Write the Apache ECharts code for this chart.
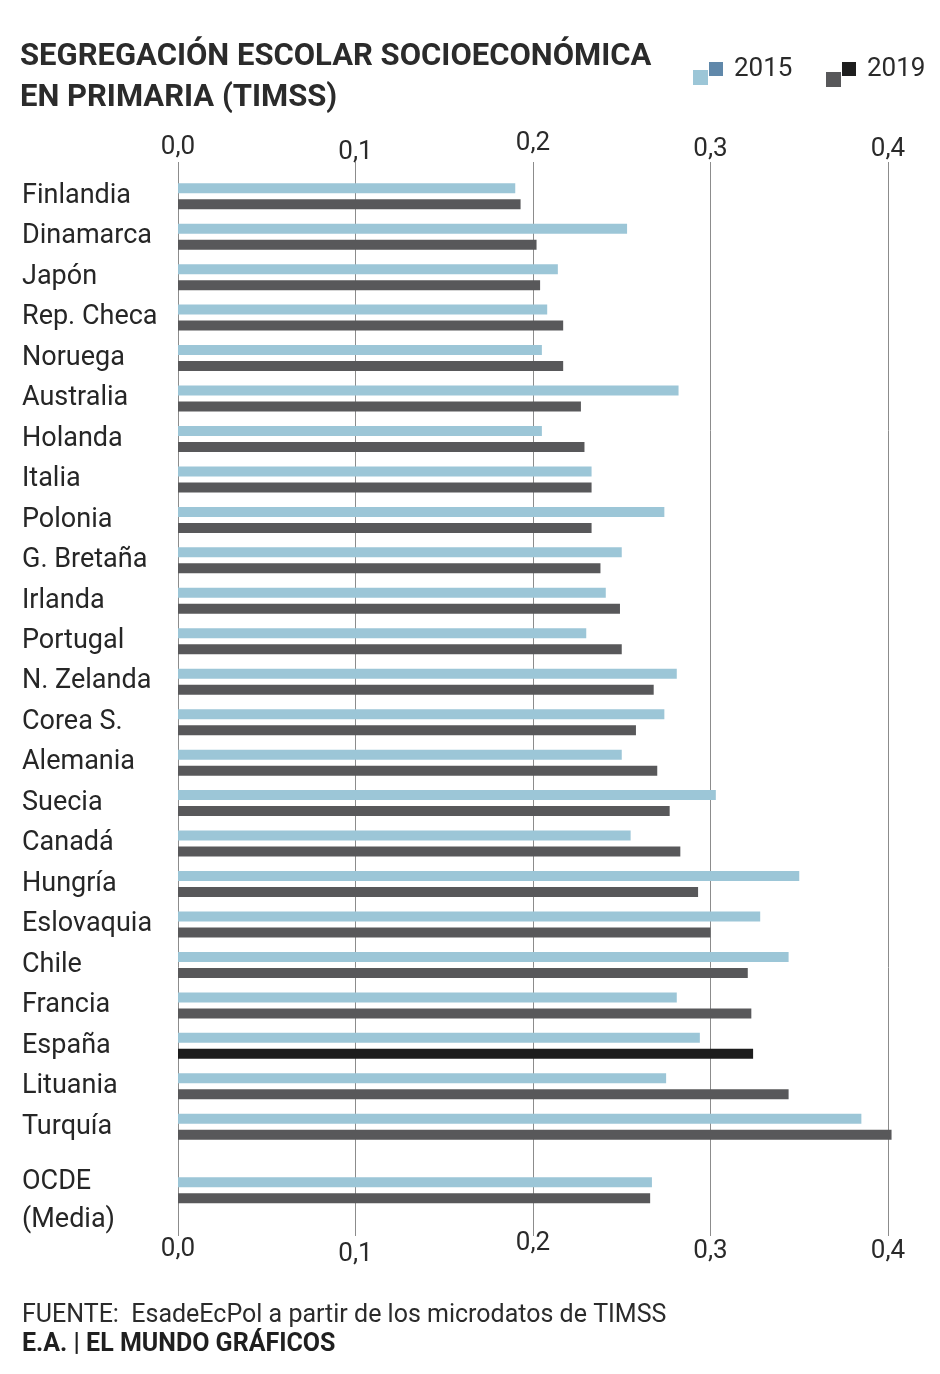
<!DOCTYPE html>
<html>
<head>
<meta charset="utf-8">
<script src="https://cdn.jsdelivr.net/npm/echarts@6/dist/echarts.min.js"></script>
<style>
  html, body { margin: 0; padding: 0; background: #fff; }
  #chart { width: 940px; height: 1374px; }
</style>
</head>
<body>
<div id="chart"></div>
<script>
const countries = [
  'Finlandia', 'Dinamarca', 'Japón', 'Rep. Checa', 'Noruega', 'Australia',
  'Holanda', 'Italia', 'Polonia', 'G. Bretaña', 'Irlanda', 'Portugal',
  'N. Zelanda', 'Corea S.', 'Alemania', 'Suecia', 'Canadá', 'Hungría',
  'Eslovaquia', 'Chile', 'Francia', 'España', 'Lituania', 'Turquía'
];
const values2015 = [
  0.190, 0.253, 0.214, 0.208, 0.205, 0.282,
  0.205, 0.233, 0.274, 0.250, 0.241, 0.230,
  0.281, 0.274, 0.250, 0.303, 0.255, 0.350,
  0.328, 0.344, 0.281, 0.294, 0.275, 0.385
];
const values2019 = [
  0.193, 0.202, 0.204, 0.217, 0.217, 0.227,
  0.229, 0.233, 0.233, 0.238, 0.249, 0.250,
  0.268, 0.258, 0.270, 0.277, 0.283, 0.293,
  0.300, 0.321, 0.323, 0.324, 0.344, 0.402
];
const oecdCategory = ['OCDE\n(Media)'];
const oecd2015 = [0.267];
const oecd2019 = [0.266];
const tickLabels = ['0,0', '0,1', '0,2', '0,3', '0,4'];
const highlighted = 'España';

const FONT = 'Roboto, "Noto Sans", sans-serif';
const C2015 = '#9cc6d7';
const C2019 = '#58585a';
const CSPAIN = '#1c1c1c';
const GRID_LINE = '#8c8c8c';

// the hand-set tick labels of the original sit a little up or down
const topNudge = [5, 0, 9, 3, 3];
const bottomNudge = [6, 11, 0, 8, 8];

const chart = echarts.init(document.getElementById('chart'), null, { renderer: 'canvas' });

const tickFormatter = (v) => {
  const i = Math.round(v * 10);
  return tickLabels[i] != null ? `{t${i}|${tickLabels[i]}}` : '';
};
const tickRich = (nudge, side) => Object.fromEntries(nudge.map((n, i) => [
  't' + i,
  { fontFamily: FONT, fontSize: 26, color: '#2a2a2a', padding: side === 'top' ? [0, 0, n, 0] : [n, 0, 0, 0] }
]));

const hiddenValueAxis = (gridIndex) => ({
  type: 'value', gridIndex, min: 0, max: 0.4, interval: 0.1,
  show: false, splitLine: { show: false }
});

const legendItem = (name, color, left, top, size, withText) => ({
  selectedMode: false,
  left, top,
  icon: 'rect',
  itemWidth: size,
  itemHeight: size,
  padding: 0,
  data: [{ name, itemStyle: { color } }],
  formatter: withText ? (n) => n : () => '',
  textStyle: {
    fontFamily: FONT, fontSize: 26, color: '#2a2a2a',
    padding: [4, 0, 0, 6]
  }
});

const labelStyle = { fontFamily: FONT, fontSize: 27, color: '#262626' };

const option = {
  animation: false,
  backgroundColor: '#fff',
  title: [
    {
      text: 'SEGREGACIÓN ESCOLAR SOCIOECONÓMICA\nEN PRIMARIA (TIMSS)',
      left: 20, top: 37, padding: 0,
      textStyle: { fontFamily: FONT, fontSize: 31, fontWeight: 'bold', color: '#2b2b2b', lineHeight: 41 }
    },
    {
      text: 'FUENTE:  EsadeEcPol a partir de los microdatos de TIMSS',
      left: 22, top: 1303, padding: 0,
      textStyle: { fontFamily: FONT, fontSize: 25, fontWeight: 'normal', color: '#2b2b2b' }
    },
    {
      text: 'E.A. | EL MUNDO GRÁFICOS',
      left: 22, top: 1332, padding: 0,
      textStyle: { fontFamily: FONT, fontSize: 25, fontWeight: 'bold', color: '#1f1f1f' }
    }
  ],
  legend: [
    legendItem('2015', C2015, 693, 70, 15, false),
    legendItem('2015', '#6088aa', 709, 56, 14, true),
    legendItem('2019', C2019, 826, 72, 15, false),
    legendItem('2019', '#1e1e1e', 842, 56, 14, true)
  ],
  grid: [
    // frame grid: gridlines and tick labels (top + bottom)
    { left: 178, right: 52, top: 162, bottom: 138 },
    // countries
    { left: 178, right: 52, top: 176, bottom: 227 },
    // OECD average
    { left: 178, right: 52, top: 1170, bottom: 163.5 }
  ],
  xAxis: [
    {
      type: 'value', gridIndex: 0, position: 'top', min: 0, max: 0.4, interval: 0.1,
      axisLine: { show: false }, axisTick: { show: false },
      splitLine: { show: true, lineStyle: { color: GRID_LINE, width: 1 } },
      axisLabel: { formatter: tickFormatter, rich: tickRich(topNudge, 'top'), margin: -3 }
    },
    {
      type: 'value', gridIndex: 0, position: 'bottom', min: 0, max: 0.4, interval: 0.1,
      axisLine: { show: false }, axisTick: { show: false }, splitLine: { show: false },
      axisLabel: { formatter: tickFormatter, rich: tickRich(bottomNudge, 'bottom'), margin: -6 }
    },
    hiddenValueAxis(1),
    hiddenValueAxis(2)
  ],
  yAxis: [
    { type: 'category', gridIndex: 0, data: [''], show: false },
    {
      type: 'category', gridIndex: 1, data: countries, inverse: true,
      axisLine: { show: false }, axisTick: { show: false },
      axisLabel: {
        align: 'left', margin: 156, fontFamily: FONT, fontSize: 27, color: '#262626',
        padding: [0, 0, 6, 0]
      }
    },
    {
      type: 'category', gridIndex: 2, data: oecdCategory, inverse: true,
      axisLine: { show: false }, axisTick: { show: false },
      axisLabel: {
        align: 'left', margin: 156,
        formatter: (v) => v.split('\n').map((s, i) => `{${i === 0 ? 'first' : 'rest'}|${s}}`).join('\n'),
        rich: {
          first: { ...labelStyle, padding: [21, 0, 0, 0] },
          rest: { ...labelStyle, padding: [11, 0, 0, 0] }
        }
      }
    }
  ],
  series: [
    {
      name: '2015', type: 'bar', xAxisIndex: 2, yAxisIndex: 1,
      data: values2015, barWidth: 10, barGap: '60%', clip: false,
      itemStyle: { color: C2015 }
    },
    {
      name: '2019', type: 'bar', xAxisIndex: 2, yAxisIndex: 1,
      data: values2019.map((v, i) => countries[i] === highlighted
        ? { value: v, itemStyle: { color: CSPAIN } } : v),
      barWidth: 10, barGap: '60%', clip: false,
      itemStyle: { color: C2019 }
    },
    {
      name: '2015', type: 'bar', xAxisIndex: 3, yAxisIndex: 2,
      data: oecd2015, barWidth: 10, barGap: '60%', clip: false,
      itemStyle: { color: C2015 }
    },
    {
      name: '2019', type: 'bar', xAxisIndex: 3, yAxisIndex: 2,
      data: oecd2019, barWidth: 10, barGap: '60%', clip: false,
      itemStyle: { color: C2019 }
    }
  ]
};

chart.setOption(option);
window.addEventListener('resize', () => chart.resize());
</script>
</body>
</html>
